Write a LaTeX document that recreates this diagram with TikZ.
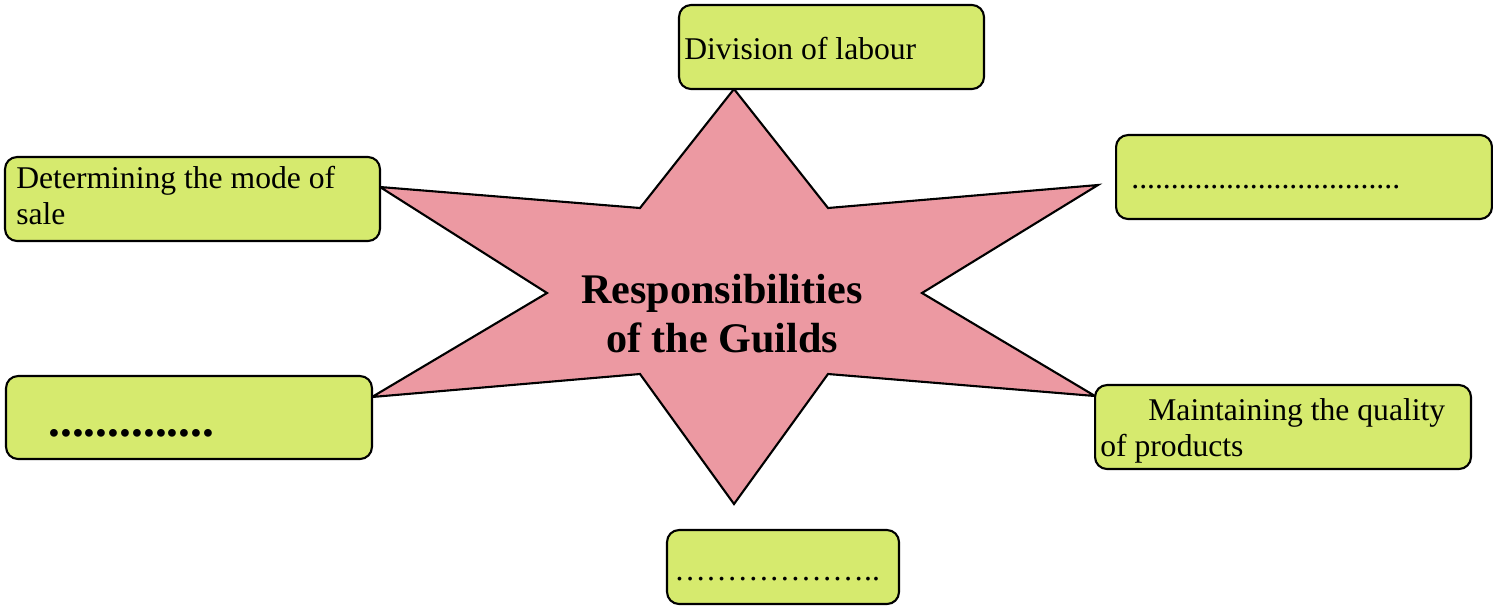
\documentclass[tikz,border=0pt]{standalone}
\usepackage{fontspec}
\setmainfont{Liberation Serif}
\definecolor{starpink}{RGB}{236,153,162}
\definecolor{boxgreen}{RGB}{214,234,110}
\begin{document}
\begin{tikzpicture}[x=0.02cm, y=-0.02cm,
	box/.style={draw, fill=boxgreen, line width=1.2pt, rounded corners=0.24cm, inner sep=0, minimum height=1.68cm},
	txt/.style={inner sep=0, align=left, anchor=base west, font=\fontsize{18}{20.7}\selectfont}]
	\useasboundingbox (0,0) rectangle (1493,606);
	
	% the star
	\filldraw[fill=starpink, line width=1.2pt, line join=miter] (734,89) -- (828,208) -- (1098,185) -- (922,293) -- (1095,396) -- (828,374) -- (734,504) -- (640,374) -- (372,397) -- (547,293) -- (380,187) -- (640,208) -- cycle;
	\node (title) at (722,352) [inner sep=0, align=center, anchor=base, font=\fontsize{24}{27.6}\selectfont\bfseries] {Responsibilities\\of the Guilds};
	
	% the boxes
	\node (labour) at (831.5,47) [box, minimum width=6.1cm] {};
	\node (blank1) at (1304,177) [box, minimum width=7.52cm] {};
	\node (sale) at (192.5,199) [box, minimum width=7.5cm] {};
	\node (blank2) at (189,417.5) [box, minimum width=7.32cm, minimum height=1.66cm] {};
	\node (quality) at (1283,427) [box, minimum width=7.52cm] {};
	\node (blank3) at (783,567) [box, minimum width=4.64cm, minimum height=1.48cm] {};
	
	% the texts (base = last line)
	\node (labourtxt) at (684,59) [txt] {Division of labour};
	\node (blank1txt) at (1131,188) [txt] {..................................};
	\node (saletxt) at (16,224.5) [txt] {Determining the mode of\\sale};
	\node (blank2txt) at (48,436) [txt, font=\fontsize{27}{31}\selectfont\bfseries] {..............};
	\node (qualitytxt) at (1100,456.5) [txt] {\hspace*{0.96cm}Maintaining the quality\\of products};
	\node (blank3txt) at (674,580) [txt] {………………..};
	
\end{tikzpicture}
\end{document}
